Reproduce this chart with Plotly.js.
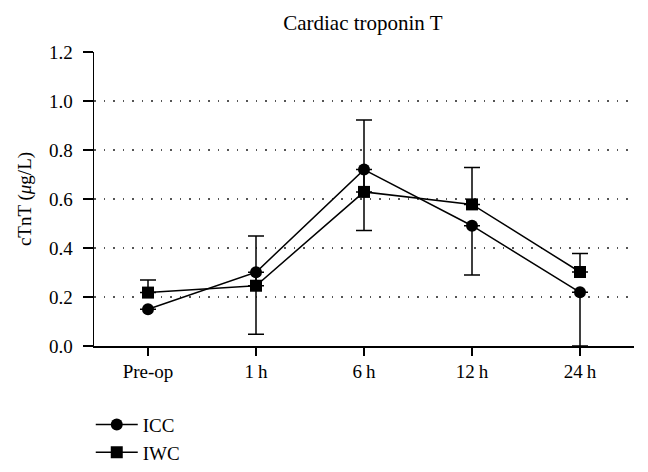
<!DOCTYPE html>
<html><head><meta charset="utf-8">
<script src="https://cdn.plot.ly/plotly-3.0.1.min.js"></script>
<style>html,body{margin:0;padding:0;background:#fff;}#chart{width:648px;height:472px;}</style>
</head><body><div id="chart"></div>
<script>
const categories = ["Pre-op", "1\u2009h", "6\u2009h", "12\u2009h", "24\u2009h"];
const iccValues = [0.150, 0.301, 0.720, 0.491, 0.219];
const iwcValues = [0.218, 0.246, 0.629, 0.578, 0.302];
const iccErrMinus = [0, 0.253, 0.249, 0.201, 0.219];
const iwcErrPlus = [0.051, 0.203, 0.293, 0.151, 0.076];
const yTicks = [0, 0.2, 0.4, 0.6, 0.8, 1.0, 1.2];
const yTickLabels = ["0.0", "0.2", "0.4", "0.6", "0.8", "1.0", "1.2"];

const font = "Liberation Serif, Times New Roman, serif";
const zeros = categories.map(() => 0);

const traces = [
  {
    x: categories, y: iccValues, name: "ICC", type: "scatter", mode: "lines+markers",
    line: {color: "#000", width: 1.5},
    marker: {symbol: "circle", size: 12, color: "#000"},
    error_y: {type: "data", symmetric: false, array: zeros, arrayminus: iccErrMinus,
      color: "#000", thickness: 1.5, width: 8}
  },
  {
    x: categories, y: iwcValues, name: "IWC", type: "scatter", mode: "lines+markers",
    line: {color: "#000", width: 1.5},
    marker: {symbol: "square", size: 12, color: "#000"},
    error_y: {type: "data", symmetric: false, array: iwcErrPlus, arrayminus: zeros,
      color: "#000", thickness: 1.5, width: 8}
  }
];

const layout = {
  width: 648, height: 472,
  margin: {l: 94, r: 14, t: 52, b: 126, autoexpand: false},
  paper_bgcolor: "#fff", plot_bgcolor: "#fff",
  font: {family: font, size: 19, color: "#000"},
  title: {text: "Cardiac troponin T", x: 0.56, xref: "container", xanchor: "center",
    y: 0.953, yref: "container", yanchor: "middle",
    font: {family: font, size: 21, color: "#000"}},
  xaxis: {
    type: "category", range: [-0.5, 4.5],
    showline: true, linecolor: "#000", linewidth: 1.5,
    ticks: "outside", ticklen: 8, tickwidth: 1.5, tickcolor: "#000",
    showgrid: false, zeroline: false, fixedrange: true,
    tickfont: {family: font, size: 19, color: "#000"}
  },
  yaxis: {
    range: [0, 1.2], tickvals: yTicks, ticktext: yTickLabels,
    showline: true, linecolor: "#000", linewidth: 1.5,
    ticks: "outside", ticklen: 10, tickwidth: 1.5, tickcolor: "#000",
    ticklabelstandoff: 6,
    showgrid: true, gridcolor: "#555", gridwidth: 1.5, griddash: "1.5px,8px",
    zeroline: false, fixedrange: true,
    tickfont: {family: font, size: 19, color: "#000"},
    title: {text: "cTnT (<i>μ</i>g/L)", standoff: 12, font: {family: font, size: 19, color: "#000"}}
  },
  showlegend: true,
  legend: {x: -0.006, y: -0.203, xanchor: "left", yanchor: "top", orientation: "v",
    font: {family: font, size: 19, color: "#000"}, bgcolor: "rgba(0,0,0,0)",
    tracegroupgap: 0, itemwidth: 42}
};

Plotly.newPlot("chart", traces, layout, {displayModeBar: false, staticPlot: true});
</script>
</body></html>
